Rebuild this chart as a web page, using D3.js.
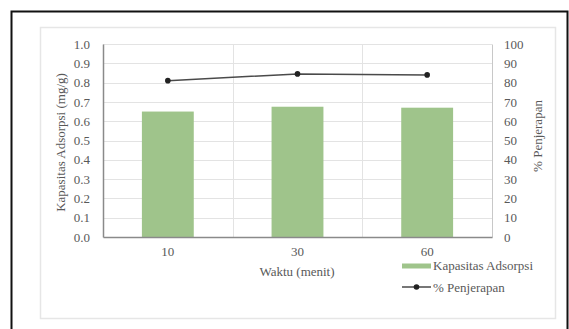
<!DOCTYPE html>
<html>
<head>
<meta charset="utf-8">
<script src="https://cdn.jsdelivr.net/npm/d3@7/dist/d3.min.js"></script>
<style>
  html, body { margin: 0; padding: 0; background: #fff; }
  svg { display: block; font-family: "Liberation Serif", "Times New Roman", serif; }
</style>
</head>
<body>
<svg id="chart" width="569" height="329"></svg>
<script>
// Contact time (minutes) and the two measured series
const categories = ["10", "30", "60"];
const capacity = [0.65, 0.675, 0.67];      // Kapasitas Adsorpsi (mg/g)
const removal = [81, 84.5, 84];            // % Penjerapan
const leftTicks = [0, 0.1, 0.2, 0.3, 0.4, 0.5, 0.6, 0.7, 0.8, 0.9, 1.0];
const rightTicks = [0, 10, 20, 30, 40, 50, 60, 70, 80, 90, 100];

const FS = 13;
const textColor = "#595959";
const svg = d3.select("#chart");

// outer frame
svg.append("rect")
  .attr("x", 11.5).attr("y", 11.5)
  .attr("width", 556).attr("height", 330)
  .attr("fill", "none").attr("stroke", "#111").attr("stroke-width", 2);

// chart area border
svg.append("rect")
  .attr("x", 40.5).attr("y", 27.5)
  .attr("width", 515).attr("height", 291)
  .attr("fill", "#fff").attr("stroke", "#e6e6e6").attr("stroke-width", 1.5);

const plot = { left: 103, right: 492, top: 44, bottom: 237 };

const x = d3.scaleBand().domain(categories)
  .range([plot.left, plot.right]).paddingInner(0.6).paddingOuter(0.3);
const xOuter = d3.scaleBand().domain(categories).range([plot.left, plot.right]);
const yL = d3.scaleLinear().domain([0, 1]).range([plot.bottom, plot.top]);
const yR = d3.scaleLinear().domain([0, 100]).range([plot.bottom, plot.top]);

// horizontal gridlines
svg.append("g").selectAll("line").data(leftTicks.slice(1)).join("line")
  .attr("x1", plot.left).attr("x2", plot.right)
  .attr("y1", d => Math.round(yL(d)) + 0.5).attr("y2", d => Math.round(yL(d)) + 0.5)
  .attr("stroke", "#e3e3e3").attr("stroke-width", 1);

// vertical gridlines at category boundaries
svg.append("g").selectAll("line").data(categories.slice(1)).join("line")
  .attr("x1", d => Math.round(xOuter(d)) + 0.5).attr("x2", d => Math.round(xOuter(d)) + 0.5)
  .attr("y1", plot.top).attr("y2", plot.bottom)
  .attr("stroke", "#e3e3e3").attr("stroke-width", 1);

// bars
svg.append("g").selectAll("rect").data(capacity).join("rect")
  .attr("x", (d, i) => x(categories[i]))
  .attr("width", x.bandwidth())
  .attr("y", d => yL(d))
  .attr("height", d => plot.bottom - yL(d))
  .attr("fill", "#9fc48b");

function styleTicks(g) {
  g.selectAll("text").attr("font-size", FS).attr("fill", textColor)
    .attr("font-family", "Liberation Serif, serif");
}

// left axis
const axL = svg.append("g").attr("transform", `translate(${plot.left},0)`)
  .call(d3.axisLeft(yL).tickValues(leftTicks).tickFormat(d3.format(".1f")).tickSize(0).tickPadding(13));
axL.select(".domain").attr("stroke", "#8a8a8a").attr("stroke-width", 1.5);
styleTicks(axL);

// right axis
const axR = svg.append("g").attr("transform", `translate(${plot.right},0)`)
  .call(d3.axisRight(yR).tickValues(rightTicks).tickSize(0).tickPadding(12));
axR.select(".domain").attr("stroke", "#c8c8c8").attr("stroke-width", 1);
styleTicks(axR);

// bottom axis
const axB = svg.append("g").attr("transform", `translate(0,${plot.bottom})`)
  .call(d3.axisBottom(xOuter).tickSize(0).tickPadding(10));
axB.select(".domain").attr("stroke", "#8a8a8a").attr("stroke-width", 1.5);
styleTicks(axB);

// removal line with markers
const cx = (d, i) => xOuter(categories[i]) + xOuter.bandwidth() / 2;
const line = d3.line().x(cx).y(d => yR(d));
svg.append("path").datum(removal)
  .attr("d", line).attr("fill", "none")
  .attr("stroke", "#4a4a4a").attr("stroke-width", 1.5);
svg.append("g").selectAll("circle").data(removal).join("circle")
  .attr("cx", cx).attr("cy", d => yR(d))
  .attr("r", 2.8).attr("fill", "#222");

// axis titles
svg.append("text")
  .attr("transform", `translate(64.5,142.5) rotate(-90)`)
  .attr("text-anchor", "middle").attr("font-size", FS).attr("fill", textColor)
  .text("Kapasitas Adsorpsi (mg/g)");
svg.append("text")
  .attr("transform", `translate(541.5,136) rotate(-90)`)
  .attr("text-anchor", "middle").attr("font-size", FS).attr("fill", textColor)
  .text("% Penjerapan");
svg.append("text")
  .attr("x", 297).attr("y", 276)
  .attr("text-anchor", "middle").attr("font-size", FS).attr("fill", textColor)
  .text("Waktu (menit)");

// legend
const lg = svg.append("g");
lg.append("line").attr("x1", 402).attr("x2", 431).attr("y1", 266).attr("y2", 266)
  .attr("stroke", "#9fc48b").attr("stroke-width", 5);
lg.append("text").attr("x", 433).attr("y", 270.3).attr("font-size", FS).attr("fill", textColor)
  .text("Kapasitas Adsorpsi");
lg.append("line").attr("x1", 402).attr("x2", 431).attr("y1", 287).attr("y2", 287)
  .attr("stroke", "#4a4a4a").attr("stroke-width", 1.5);
lg.append("circle").attr("cx", 416.5).attr("cy", 287).attr("r", 2.8).attr("fill", "#222");
lg.append("text").attr("x", 433).attr("y", 291.5).attr("font-size", FS).attr("fill", textColor)
  .text("% Penjerapan");
</script>
</body>
</html>
